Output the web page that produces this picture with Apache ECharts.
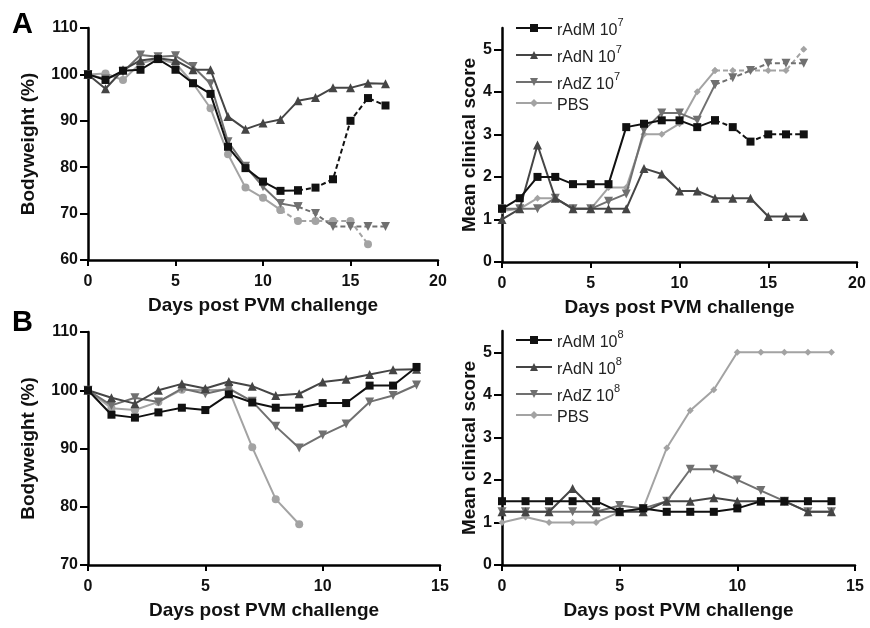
<!DOCTYPE html>
<html>
<head>
<meta charset="utf-8">
<script src="https://cdn.jsdelivr.net/npm/echarts@6/dist/echarts.min.js"></script>
<style>
html,body{margin:0;padding:0;background:#fff;}
#chart{width:870px;height:628px;}
</style>
</head>
<body>
<div id="chart"></div>
<script>
// ---------- data ----------
const daysA = [0,1,2,3,4,5,6,7,8,9,10,11,12,13,14,15,16,17];
const daysB = [0,1,2,3,4,5,6,7,8,9,10,11,12,13,14];

// Panel A left: bodyweight (%), 10^7 dose
const bwA_M   = [100,98.8,100.8,101,103.3,101,98.1,95.8,84.4,79.8,76.9,74.9,75,75.6,77.4,90,94.9,93.3];
const bwA_N   = [100,96.9,101,103,103.5,103,101,101,90.9,88.2,89.5,90.3,94.3,95,97.1,97.1,98.1,98];
const bwA_Z   = [100,99,100.5,104.2,103.8,104,101.7,98,85.5,80.2,75.8,72.2,71.5,70,67.2,67.2,67.2,67.2];
const bwA_PBS = [100,100.2,98.8,102.4,103.3,102.4,98.1,92.7,82.8,75.6,73.4,70.8,68.4,68.4,68.4,68.4,63.4];

// Panel A right: mean clinical score, 10^7 dose
const csA_M   = [1.25,1.5,2,2,1.83,1.83,1.83,3.17,3.25,3.33,3.33,3.17,3.33,3.17,2.83,3,3,3];
const csA_N   = [1,1.25,2.75,1.5,1.25,1.25,1.25,1.25,2.2,2.07,1.67,1.67,1.5,1.5,1.5,1.07,1.07,1.07];
const csA_Z   = [1.25,1.25,1.25,1.5,1.25,1.25,1.43,1.6,3.1,3.5,3.5,3.33,4.17,4.33,4.5,4.67,4.67,4.67];
const csA_PBS = [1.2,1.25,1.5,1.5,1.25,1.25,1.75,1.75,3,3,3.25,4,4.5,4.5,4.5,4.5,4.5,5];

// Panel B left: bodyweight (%), 10^8 dose
const bwB_M   = [100,95.8,95.3,96.2,97,96.6,99.3,97.9,97,97,97.8,97.8,100.8,100.8,104];
const bwB_N   = [100,98.7,97.7,100,101.1,100.3,101.5,100.7,99.1,99.4,101.4,101.9,102.7,103.5,103.6];
const bwB_Z   = [100,97.4,98.7,98,100.3,99.4,100.3,98.1,93.8,90.1,92.3,94.2,98,99.1,100.9];
const bwB_PBS = [100,96.9,96.6,98,100.1,100,100.1,90.2,81.3,77];

// Panel B right: mean clinical score, 10^8 dose
const csB_M   = [1.5,1.5,1.5,1.5,1.5,1.25,1.33,1.25,1.25,1.25,1.33,1.5,1.5,1.5,1.5];
const csB_N   = [1.25,1.25,1.25,1.8,1.25,1.25,1.25,1.5,1.5,1.58,1.5,1.5,1.5,1.25,1.25];
const csB_Z   = [1.25,1.25,1.25,1.25,1.25,1.4,1.33,1.5,2.25,2.25,2,1.75,1.5,1.25,1.25];
const csB_PBS = [1,1.13,1,1,1,1.25,1.33,2.75,3.63,4.12,5,5,5,5,5];

// index where line turns dashed (null = solid throughout)
const dashFromA_bw = {M:12, N:null, Z:12, PBS:11};
const dashFromA_cs = {M:12, N:null, Z:12, PBS:12};

const ticksBwA = [60,70,80,90,100,110];
const ticksBwB = [70,80,90,100,110];
const ticksCs  = [0,1,2,3,4,5];
const ticksXA  = [0,5,10,15,20];
const ticksXB  = [0,5,10,15];

const groupNames = ['rAdM','rAdN','rAdZ','PBS'];

// ---------- styles ----------
const FONT = 'Liberation Sans, Arial, sans-serif';
const colors = {M:'#111111', N:'#454545', Z:'#707070', PBS:'#a3a3a3'};
const symbols = {
  M:{symbol:'rect', symbolSize:8, symbolRotate:0},
  N:{symbol:'triangle', symbolSize:9, symbolRotate:0},
  Z:{symbol:'triangle', symbolSize:9, symbolRotate:180},
  PBS:{symbol:'circle', symbolSize:8, symbolRotate:0}
};
const keys = ['M','N','Z','PBS'];
const zOrder = {M:5, N:4, Z:3, PBS:2};

function pairs(days, vals, from, to) {
  const out = [];
  for (let i = from; i <= to && i < vals.length; i++) out.push([days[i], vals[i]]);
  return out;
}

function makeSeries(idx, days, valsByKey, dashFrom, legendSuffix, pbsSymbol) {
  const out = [];
  keys.forEach((k, j) => {
    const vals = valsByKey[k];
    const sym = Object.assign({}, symbols[k]);
    if (k === 'PBS' && pbsSymbol) { sym.symbol = pbsSymbol.symbol; sym.symbolSize = pbsSymbol.size; }
    const base = {
      type:'line', xAxisIndex:idx, yAxisIndex:idx,
      symbol:sym.symbol, symbolSize:sym.symbolSize, symbolRotate:sym.symbolRotate,
      showAllSymbol:true, animation:false, z:zOrder[k],
      itemStyle:{color:colors[k], borderWidth:0},
      emphasis:{disabled:true}
    };
    const name = groupNames[j] + legendSuffix;
    const df = dashFrom ? dashFrom[k] : null;
    if (df === null || df === undefined) {
      out.push(Object.assign({}, base, {name:name, data:pairs(days, vals, 0, vals.length-1),
        lineStyle:{color:colors[k], width:2}}));
    } else {
      out.push(Object.assign({}, base, {name:name, data:pairs(days, vals, 0, df),
        lineStyle:{color:colors[k], width:2}}));
      out.push(Object.assign({}, base, {name:name + '_dashed', data:pairs(days, vals, df, vals.length-1),
        lineStyle:{color:colors[k], width:2, type:[5,3]}}));
    }
  });
  return out;
}

const axisCommon = {
  axisLine:{show:true, onZero:false, lineStyle:{color:'#000', width:2.5}},
  axisTick:{show:true, inside:false, length:6, lineStyle:{color:'#000', width:2}},
  splitLine:{show:false},
  axisLabel:{color:'#111', fontFamily:FONT, fontWeight:'bold', fontSize:16},
  nameTextStyle:{color:'#111', fontFamily:FONT, fontWeight:'bold', fontSize:19}
};
function xAxis(idx, max, ticks) {
  return Object.assign({}, axisCommon, {
    type:'value', gridIndex:idx, min:0, max:max, interval:5,
    name:'Days post PVM challenge', nameLocation:'middle', nameGap:36,
    axisLabel:Object.assign({}, axisCommon.axisLabel, {margin:14, customValues:ticks}),
    axisTick:Object.assign({}, axisCommon.axisTick, {customValues:ticks})
  });
}
function yAxis(idx, min, max, ticks, name, gap) {
  return Object.assign({}, axisCommon, {
    type:'value', gridIndex:idx, min:min, max:max, interval:ticks[1]-ticks[0],
    name:name, nameLocation:'middle', nameGap:gap,
    axisTick:Object.assign({}, axisCommon.axisTick, {length:8, customValues:ticks}),
    axisLabel:Object.assign({}, axisCommon.axisLabel, {margin:10, customValues:ticks})
  });
}

function legend(sup, top, gap) {
  return {
    orient:'vertical', left:510, top:top, itemWidth:36, itemHeight:10, itemGap:gap,
    data:groupNames.map(n => n + sup.key),
    formatter: function(name) {
      const base = name.replace(sup.key, '');
      if (base === 'PBS') return '{n|PBS}';
      return '{n|' + base + ' 10}{s|' + sup.exp + '}';
    },
    textStyle:{color:'#222', fontFamily:FONT, fontSize:16,
      rich:{ n:{fontSize:16, fontFamily:FONT, color:'#222', lineHeight:22, verticalAlign:'bottom'},
             s:{fontSize:11, fontFamily:FONT, color:'#222', lineHeight:22, verticalAlign:'top'} }},
    selectedMode:false
  };
}

const series = [].concat(
  makeSeries(0, daysA, {M:bwA_M, N:bwA_N, Z:bwA_Z, PBS:bwA_PBS}, dashFromA_bw, '', null),
  makeSeries(1, daysA, {M:csA_M, N:csA_N, Z:csA_Z, PBS:csA_PBS}, dashFromA_cs, ' A', {symbol:'diamond', size:7}),
  makeSeries(2, daysB, {M:bwB_M, N:bwB_N, Z:bwB_Z, PBS:bwB_PBS}, null, '', null),
  makeSeries(3, daysB, {M:csB_M, N:csB_N, Z:csB_Z, PBS:csB_PBS}, null, ' B', {symbol:'diamond', size:7})
);

const option = {
  backgroundColor:'#ffffff',
  animation:false,
  textStyle:{fontFamily:FONT},
  grid:[
    {left:88, top:28, width:350, height:232, outerBoundsMode:'none', containLabel:false},
    {left:502, top:28, width:355, height:234, outerBoundsMode:'none', containLabel:false},
    {left:88, top:332, width:352, height:233, outerBoundsMode:'none', containLabel:false},
    {left:502, top:331, width:353, height:234, outerBoundsMode:'none', containLabel:false}
  ],
  xAxis:[ xAxis(0,20,ticksXA), xAxis(1,20,ticksXA), xAxis(2,15,ticksXB), xAxis(3,15,ticksXB) ],
  yAxis:[
    yAxis(0,60,110,ticksBwA,'Bodyweight (%)',50),
    yAxis(1,0,5.5,ticksCs,'Mean clinical score',22),
    yAxis(2,70,110,ticksBwB,'Bodyweight (%)',50),
    yAxis(3,0,5.5,ticksCs,'Mean clinical score',22)
  ],
  legend:[ legend({key:' A', exp:'7'}, 12, 5), legend({key:' B', exp:'8'}, 324, 5) ],
  graphic:[
    {type:'text', left:12, top:10, style:{text:'A', fontFamily:FONT, fontWeight:'bold', fontSize:29, fill:'#000'}},
    {type:'text', left:12, top:308, style:{text:'B', fontFamily:FONT, fontWeight:'bold', fontSize:29, fill:'#000'}}
  ],
  series:series
};

const chart = echarts.init(document.getElementById('chart'), null, {renderer:'canvas'});
chart.setOption(option);
</script>
</body>
</html>
